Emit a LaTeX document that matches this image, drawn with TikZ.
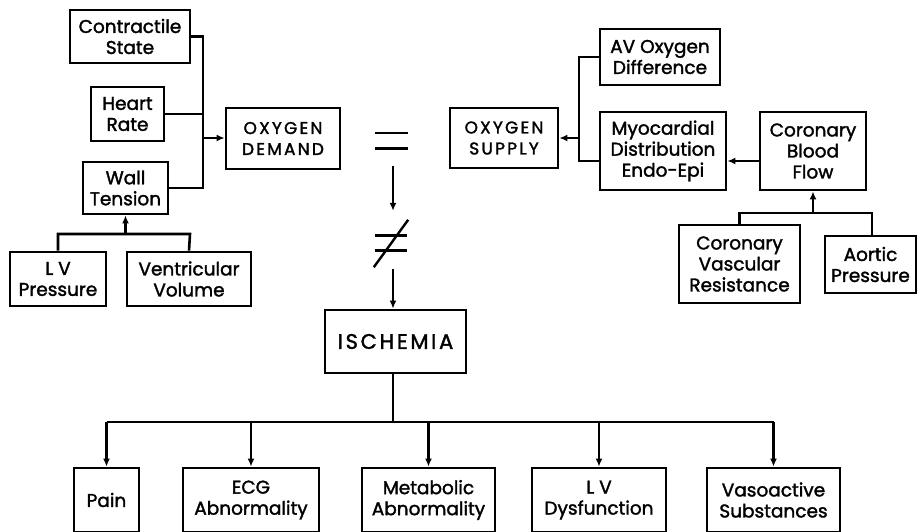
\documentclass[tikz,border=0pt]{standalone}
\usepackage{fontspec}
\newfontfamily\pf[FakeBold=1.7]{Poppins}
\newfontfamily\pfs[LetterSpace=13,FakeBold=1.7]{Poppins}
\usetikzlibrary{arrows.meta}
\begin{document}
\begin{tikzpicture}[x=1pt,y=-1pt,
  box/.style={draw,line width=2.8pt,align=center,inner sep=0pt,
    font=\pf\fontsize{18.5}{21}\selectfont},
  capbox/.style={box,font=\pfs\fontsize{17}{21}\selectfont},
  conn/.style={line width=2.6pt},
  arr/.style={conn,-{Latex[length=8pt,width=7pt]}},
  sym/.style={inner sep=0pt,minimum width=32pt,minimum height=15pt}]
\useasboundingbox (0,0) rectangle (917,532);
% left cluster
\node[box,minimum width=120pt,minimum height=53pt] (cs) at (130,36.5) {Contractile\\State};
\node[box,minimum width=73pt,minimum height=54pt] (hr) at (127.5,114) {Heart\\Rate};
\node[box,minimum width=85pt,minimum height=52pt] (wt) at (125.5,188) {Wall\\Tension};
\node[box,minimum width=96pt,minimum height=54pt] (lvp) at (58,279) {L V\\Pressure};
\node[box,minimum width=124pt,minimum height=54pt] (vv) at (189,279) {Ventricular\\Volume};
\node[capbox,minimum width=114pt,minimum height=61pt] (od) at (283,138.5) {OXYGEN\\DEMAND};
% right cluster
\node[capbox,minimum width=108pt,minimum height=60pt] (os) at (504,138) {OXYGEN\\SUPPLY};
\node[box,minimum width=120pt,minimum height=56pt] (av) at (660,57) {AV Oxygen\\Difference};
\node[box,minimum width=126pt,minimum height=78pt] (md) at (663,151) {Myocardial\\Distribution\\Endo-Epi};
\node[box,minimum width=106pt,minimum height=78pt] (cbf) at (813,151) {Coronary\\Blood\\Flow};
\node[box,minimum width=121pt,minimum height=78pt] (cvr) at (739.5,264) {Coronary\\Vascular\\Resistance};
\node[box,minimum width=91pt,minimum height=57pt] (ap) at (870.5,264.5) {Aortic\\Pressure};
% centre
\node[sym] (eq) at (391.5,140.5) {};
\node[sym] (neq) at (391,243) {};
\node[capbox,font=\pfs\fontsize{21}{24}\selectfont,minimum width=141pt,minimum height=63pt] (isc) at (395.5,341.5) {ISCHEMIA};
% bottom row
\node[box,minimum width=65pt,minimum height=64pt] (pain) at (106.5,500) {Pain};
\node[box,minimum width=136pt,minimum height=64pt] (ecg) at (251,500) {ECG\\Abnormality};
\node[box,minimum width=133pt,minimum height=64pt] (met) at (428.5,500) {Metabolic\\Abnormality};
\node[box,minimum width=134pt,minimum height=64pt] (lvd) at (599,500) {L V\\Dysfunction};
\node[box,minimum width=133pt,minimum height=64pt] (vas) at (773.5,500) {Vasoactive\\Substances};
% symbols
\draw[conn] (eq.north west) -- (eq.north east);
\draw[conn] (eq.south west) -- (eq.south east);
\draw[conn] (neq.north west) -- (neq.north east);
\draw[conn] (neq.south west) -- (neq.south east);
\draw[line width=2.4pt] ([shift={(-1pt,-16.5pt)}]neq.south west) -- ([shift={(1pt,15.5pt)}]neq.north east);
\draw[arr] ([shift={(1.5pt,-18pt)}]eq.south) -- ([shift={(2pt,24.5pt)}]neq.north);
\draw[arr] ([shift={(2pt,-18.5pt)}]neq.south) -- ([xshift=-2.5pt]isc.north);
% left connectors
\coordinate (bl) at (203,138);
\draw[conn] (cs.east) -| (203,188) -- (wt.east);
\draw[conn] (hr.east) -- (203,114);
\draw[arr] (bl) -- (bl -| od.west);
\draw[conn] (lvp.north) |- (190,234) -- (vv.north);
\draw[arr] (wt.south |- 0,234) -- (wt.south);
% right connectors
\coordinate (br) at (579,138);
\draw[conn] (av.west) -| (579,161) -- ([yshift=-10pt]md.west);
\draw[arr] (br) -- (br -| os.east);
\draw[arr] ([yshift=-10pt]cbf.west) -- ([yshift=-10pt]md.east);
\draw[conn] (cvr.north) |- (872,213) -- (ap.north -| 872,0);
\draw[arr] (cbf.south |- 0,213) -- (cbf.south);
% ischemia fan-out
\coordinate (bb) at (393,422);
\draw[conn] (isc.south -| bb) -- (bb);
\draw[conn] (pain.north |- bb) -- (vas.north |- bb);
\foreach \n in {pain,ecg,met,lvd,vas} \draw[arr] (\n.north |- bb) -- (\n.north);
\end{tikzpicture}
\end{document}
